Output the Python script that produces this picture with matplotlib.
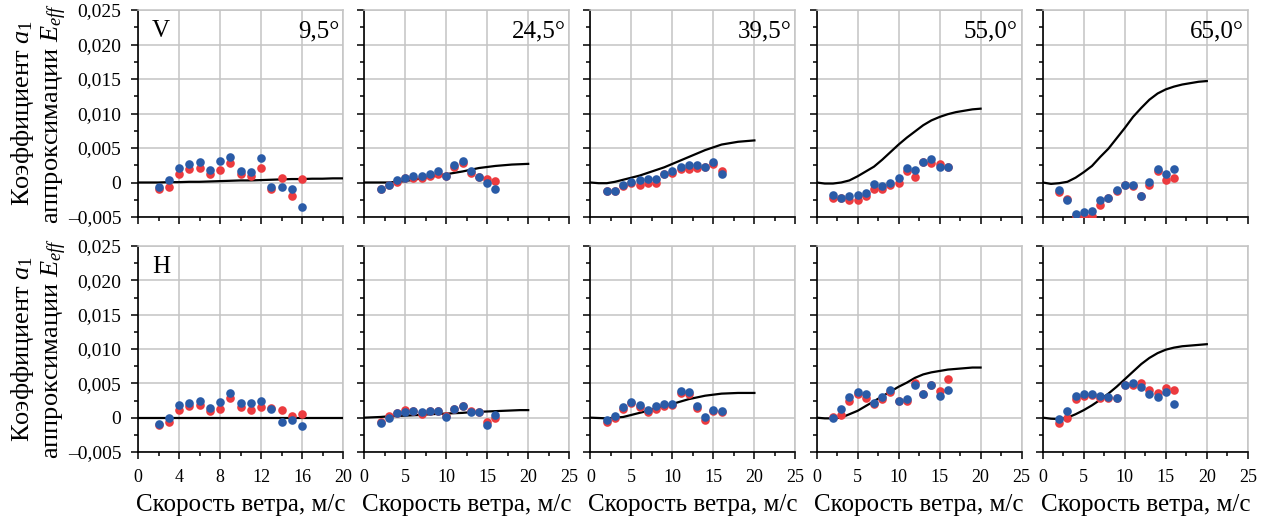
import numpy as np
import matplotlib
matplotlib.use("Agg")
import matplotlib.pyplot as plt
from matplotlib.ticker import MultipleLocator, FuncFormatter

plt.rcParams['font.family'] = ['Liberation Serif', 'DejaVu Serif']
plt.rcParams['mathtext.fontset'] = 'custom'
plt.rcParams['mathtext.rm'] = 'Liberation Serif'
plt.rcParams['mathtext.it'] = 'Liberation Serif:italic'

ANGLES = ["9,5°", "24,5°", "39,5°", "55,0°", "65,0°"]
ROWS = ["V", "H"]
SPEED = list(range(2, 17))

# coefficient values, in units of 1e-3
V_RED = [
    [-1.0, -0.6, 1.3, 2.0, 2.1, 1.3, 1.8, 2.8, 1.2, 0.9, 2.1, -0.9, 0.7, -1.9, 0.5],
    [-0.9, -0.3, 0.1, 0.7, 0.6, 0.6, 1.0, 1.3, 0.9, 2.3, 2.8, 1.4, 0.8, 0.5, 0.2],
    [-1.3, -1.3, -0.5, 0.0, -0.3, 0.0, 0.0, 1.2, 1.4, 2.0, 2.0, 2.1, 2.3, 2.7, 1.7],
    [-2.2, -2.3, -2.5, -2.6, -1.9, -1.0, -1.0, -0.4, -0.1, 1.6, 0.8, 2.9, 2.8, 2.7, 2.2],
    [-1.4, -2.4, -4.9, -4.9, -4.9, -3.2, -2.3, -1.3, -0.4, -0.5, -2.0, -0.4, 1.6, 0.3, 0.7],
]
V_BLUE = [
    [-0.7, 0.3, 2.1, 2.7, 3.0, 1.8, 3.1, 3.7, 1.7, 1.5, 3.5, -0.7, -0.7, -1.0, -3.5],
    [-0.9, -0.3, 0.3, 0.7, 0.9, 0.9, 1.2, 1.6, 0.9, 2.6, 3.1, 1.7, 0.8, 0.0, -0.9],
    [-1.2, -1.2, -0.3, 0.1, 0.3, 0.5, 0.5, 1.3, 1.6, 2.3, 2.6, 2.5, 2.2, 3.0, 1.3],
    [-1.8, -2.2, -2.0, -1.8, -1.5, -0.2, -0.5, 0.0, 0.6, 2.1, 1.8, 3.0, 3.4, 2.3, 2.2],
    [-1.1, -2.6, -4.5, -4.3, -4.1, -2.6, -2.2, -1.1, -0.3, -0.3, -2.0, 0.1, 2.0, 1.2, 1.9],
]
H_RED = [
    [-1.0, -0.7, 1.1, 1.7, 1.8, 0.9, 1.3, 2.9, 1.5, 1.1, 1.6, 1.4, 1.1, 0.2, 0.5],
    [-0.6, 0.2, 0.7, 1.1, 0.9, 0.6, 1.0, 1.0, 0.2, 1.3, 1.7, 1.0, 0.8, -0.6, 0.0],
    [-0.6, 0.0, 1.3, 2.2, 1.5, 0.8, 1.2, 1.7, 1.9, 3.6, 3.4, 1.4, -0.3, 1.0, 0.8],
    [0.1, 0.4, 2.4, 3.4, 2.9, 2.0, 2.7, 3.8, 2.4, 2.5, 5.0, 3.4, 4.8, 3.9, 5.7],
    [-0.8, 0.0, 2.7, 3.1, 3.3, 2.8, 2.9, 2.9, 4.8, 4.7, 5.1, 4.1, 3.6, 4.3, 4.1],
]
H_BLUE = [
    [-0.9, 0.0, 1.8, 2.2, 2.5, 1.4, 2.3, 3.6, 2.1, 2.1, 2.4, 1.2, -0.7, -0.4, -1.2],
    [-0.8, 0.0, 0.7, 0.8, 0.9, 0.8, 1.0, 1.0, 0.1, 1.3, 1.7, 0.8, 0.8, -1.0, 0.4],
    [-0.3, 0.2, 1.5, 2.3, 1.9, 1.1, 1.7, 2.0, 2.0, 3.9, 3.7, 1.7, 0.1, 1.1, 0.9],
    [0.0, 1.3, 3.0, 3.8, 3.4, 2.2, 3.0, 4.1, 2.5, 2.7, 4.8, 3.4, 4.8, 3.1, 4.0],
    [-0.2, 0.9, 3.1, 3.5, 3.5, 3.1, 3.0, 2.9, 4.8, 5.1, 4.5, 3.4, 3.0, 3.8, 2.0],
]

# model curves
CURVE_X = list(range(0, 21))
V_CURVE = [
    [0, 0.0, 0.0, 0.05, 0.05, 0.1, 0.1, 0.15, 0.2, 0.25, 0.3, 0.3, 0.35, 0.4, 0.45,
     0.5, 0.5, 0.55, 0.55, 0.6, 0.6],
    [0, 0.0, 0.0, 0.0, 0.1, 0.2, 0.4, 0.6, 0.8, 1.0, 1.2, 1.4, 1.6, 1.85, 2.1,
     2.25, 2.4, 2.5, 2.6, 2.65, 2.7],
    [0, -0.1, -0.1, 0.1, 0.4, 0.7, 1.0, 1.4, 1.8, 2.2, 2.7, 3.2, 3.7, 4.2, 4.7,
     5.1, 5.5, 5.7, 5.9, 6.0, 6.1],
    [0, -0.15, -0.15, 0.0, 0.3, 0.9, 1.6, 2.3, 3.3, 4.4, 5.5, 6.5, 7.4, 8.3, 9.0,
     9.5, 9.9, 10.2, 10.4, 10.6, 10.7],
    [0, -0.2, -0.1, 0.1, 0.7, 1.5, 2.4, 3.7, 4.9, 6.4, 7.9, 9.5, 10.8, 12.0, 12.9,
     13.5, 13.9, 14.2, 14.4, 14.6, 14.7],
]
H_CURVE = [
    [0] * 21,
    [0, 0.05, 0.1, 0.2, 0.25, 0.3, 0.35, 0.4, 0.5, 0.55, 0.6, 0.65, 0.7, 0.8, 0.85,
     0.9, 0.95, 1.0, 1.05, 1.1, 1.1],
    [0, -0.05, -0.1, 0.0, 0.1, 0.4, 0.7, 1.0, 1.4, 1.7, 2.0, 2.35, 2.7, 2.95, 3.2,
     3.35, 3.5, 3.55, 3.6, 3.6, 3.6],
    [0, -0.1, -0.1, 0.0, 0.5, 1.0, 1.7, 2.4, 3.1, 3.8, 4.5, 5.1, 5.8, 6.3, 6.6,
     6.8, 7.0, 7.1, 7.2, 7.3, 7.3],
    [0, -0.15, -0.2, 0.0, 0.5, 1.1, 1.8, 2.6, 3.5, 4.5, 5.6, 6.7, 7.8, 8.7, 9.4,
     9.9, 10.2, 10.4, 10.5, 10.6, 10.7],
]

RED = "#ec3b3f"
BLUE = "#2a5ba7"
GRID = "#c4c4c4"


def fmt_y(v, pos):
    if abs(v) < 1e-12:
        return "0"
    return f"{v:.3f}".replace(".", ",").replace("-", "\u2013")


fig = plt.figure(figsize=(12.7, 5.19), dpi=100)

W, H = 1270, 519
lefts = [138 + i * 226.2 for i in range(5)]
row_box = [(10, 217), (246, 452)]

for r, row in enumerate(ROWS):
    reds = V_RED if r == 0 else H_RED
    blues = V_BLUE if r == 0 else H_BLUE
    curves = V_CURVE if r == 0 else H_CURVE
    top, bot = row_box[r]
    for c in range(5):
        ax = fig.add_axes([lefts[c] / W, 1 - bot / H, 205 / W, (bot - top) / H])

        ax.plot(CURVE_X, np.array(curves[c]) * 1e-3, color="black", lw=1.6, zorder=3)
        ax.plot(SPEED, np.array(reds[c]) * 1e-3, "o", color=RED, ms=6.2, mew=0, zorder=4)
        ax.plot(SPEED, np.array(blues[c]) * 1e-3, "o", color=BLUE, ms=6.2, mew=0, zorder=5)

        ax.set_ylim(-0.005, 0.025)
        ax.yaxis.set_major_locator(MultipleLocator(0.005))
        ax.yaxis.set_minor_locator(MultipleLocator(0.0025))
        if c == 0:
            ax.set_xlim(0, 20)
            ax.xaxis.set_major_locator(MultipleLocator(4))
            ax.xaxis.set_minor_locator(MultipleLocator(2))
        else:
            ax.set_xlim(0, 25)
            ax.xaxis.set_major_locator(MultipleLocator(5))
            ax.xaxis.set_minor_locator(MultipleLocator(2.5))

        ax.grid(True, which="major", color=GRID, lw=1.1, zorder=0)
        ax.set_axisbelow(True)
        for s in ["top", "right"]:
            ax.spines[s].set_color(GRID)
            ax.spines[s].set_linewidth(1.1)
        for s in ["left", "bottom"]:
            ax.spines[s].set_color("black")
            ax.spines[s].set_linewidth(1.2)

        ax.tick_params(which="major", length=5, width=1.1)
        ax.tick_params(which="minor", length=3, width=1.1)
        ax.tick_params(axis="x", labelsize=13, pad=7)
        ax.tick_params(axis="y", labelsize=14, pad=7)
        ax.yaxis.set_major_formatter(FuncFormatter(fmt_y))

        if c > 0:
            ax.tick_params(axis="y", labelleft=False)
        else:
            ax.set_ylabel("Коэффициент $a_1$\nаппроксимации $E_{eff}$",
                          fontsize=19, linespacing=1.2)
            ax.yaxis.set_label_coords(-0.335, 0.5)
            ax.text(0.067, 0.95, row, transform=ax.transAxes, fontsize=18,
                    ha="left", va="top")
        if r == 0:
            ax.tick_params(axis="x", labelbottom=False)
            ax.text(0.982, 0.95, ANGLES[c], transform=ax.transAxes, fontsize=18,
                    ha="right", va="top")
        else:
            ax.set_xlabel("Скорость ветра, м/с", fontsize=18, labelpad=6)

fig.savefig("out.png", dpi=100)
